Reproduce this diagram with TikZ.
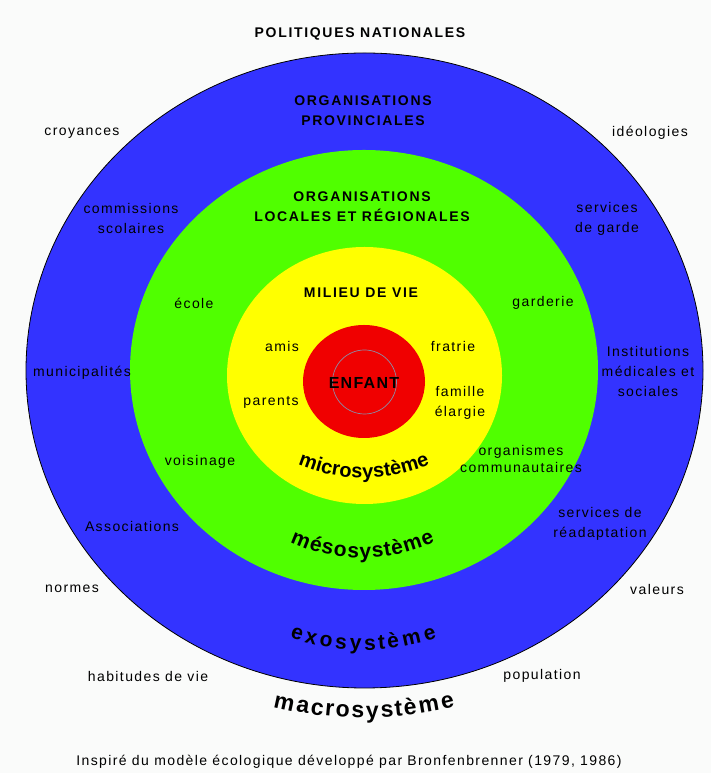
\documentclass[tikz,border=0pt]{standalone}
\usepackage{fontspec}
\setmainfont{Liberation Sans}
\newfontfamily\arcfont{Liberation Sans}
\usetikzlibrary{decorations.text}
\definecolor{bg}{RGB}{250,251,250}
\definecolor{macroblue}{RGB}{51,51,255}
\definecolor{mesogreen}{RGB}{80,255,0}
\definecolor{microyellow}{RGB}{255,255,0}
\definecolor{childred}{RGB}{240,0,0}
\definecolor{ringgrey}{RGB}{140,140,165}
\tikzset{
  lab/.style={inner sep=0pt, align=center, text=black,
    font=\fontsize{14}{20}\selectfont\addfontfeature{LetterSpace=10}},
  blab/.style={inner sep=0pt, align=center, text=black,
    font=\bfseries\fontsize{14}{20}\selectfont\addfontfeature{LetterSpace=12}},
  arctext/.style 2 args={decorate, decoration={text effects along path,
    text={#1}, text effects/.cd, text along path, fit text to path,
    characters={inner sep=0pt, anchor=base, text=black,
      font=\arcfont\bfseries\fontsize{#2}{#2}\selectfont}}}
}
\begin{document}
\begin{tikzpicture}[x=1pt,y=1pt]
\useasboundingbox (0,0) rectangle (711,773);
\fill[bg] (0,0) rectangle (711,773);
% rings
\filldraw[fill=macroblue, draw=black, line width=0.8pt] (364.5,402.5) ellipse [x radius=338.5, y radius=317.5];
\fill[mesogreen] (364,403) ellipse [x radius=234, y radius=220];
\fill[microyellow] (364.5,397.5) ellipse [x radius=137.5, y radius=128.5];
\fill[childred] (364,391.5) ellipse [x radius=61, y radius=56.5];
\draw[ringgrey, line width=0.7pt] (364.5,391) circle [radius=32];
% outside (macrosysteme)
\node[blab] (politiques) at (360,739) {POLITIQUES NATIONALES};
\node[lab] (croyances) at (82,640) {croyances};
\node[lab] (ideologies) at (650,640) {idéologies};
\node[lab] (normes) at (72,184) {normes};
\node[lab] (valeurs) at (657,184) {valeurs};
\node[lab] (habitudes) at (148,97) {habitudes de vie};
\node[lab] (population) at (542,97) {population};
% blue ring (exosysteme)
\node[blab] (provinciales) at (363,662) {ORGANISATIONS\\PROVINCIALES};
\node[lab] (commissions) at (131,554) {commissions\\scolaires};
\node[lab] (garde) at (607,554) {services\\de garde};
\node[lab] (municipalites) at (82,400) {municipalités};
\node[lab] (institutions) at (648,401) {Institutions\\médicales et\\sociales};
\node[lab] (associations) at (132,246) {Associations};
\node[lab] (readaptation) at (600,249) {services de\\réadaptation};
% green ring (mesosysteme)
\node[blab] (locales) at (362,566) {ORGANISATIONS\\LOCALES ET RÉGIONALES};
\node[lab] (ecole) at (194,470) {école};
\node[lab] (garderie) at (543,470) {garderie};
\node[lab] (voisinage) at (200,311) {voisinage};
\node[lab, font=\fontsize{14}{17}\selectfont\addfontfeature{LetterSpace=10}] (organismes) at (521,314) {organismes\\communautaires};
% yellow ring (microsysteme)
\node[blab] (milieu) at (361,480) {MILIEU DE VIE};
\node[lab] (amis) at (282,426) {amis};
\node[lab] (fratrie) at (453,426) {fratrie};
\node[lab] (parents) at (271,371) {parents};
\node[lab] (famille) at (460,370) {famille\\élargie};
% child
\node[blab, font=\bfseries\fontsize{16}{18}\selectfont\addfontfeature{LetterSpace=8}] (enfant) at (364,390) {ENFANT};
% curved system names
\path[arctext={microsystème}{20}] (298,308.4) arc[start angle=247.15, end angle=292.85, radius=170];
\path[arctext={mésosystème}{21}] (290,231.2) arc[start angle=244.75, end angle=295.25, radius=170];
\path[arctext={exosystème}{21}] (290,135.1) arc[start angle=251.36, end angle=288.64, radius=230];
\path[arctext={macrosystème}{23}] (273,66.1) arc[start angle=256.14, end angle=283.86, radius=380];
% source
\node[lab] (source) at (349,11) {Inspiré du modèle écologique développé par Bronfenbrenner (1979, 1986)};
\end{tikzpicture}
\end{document}
